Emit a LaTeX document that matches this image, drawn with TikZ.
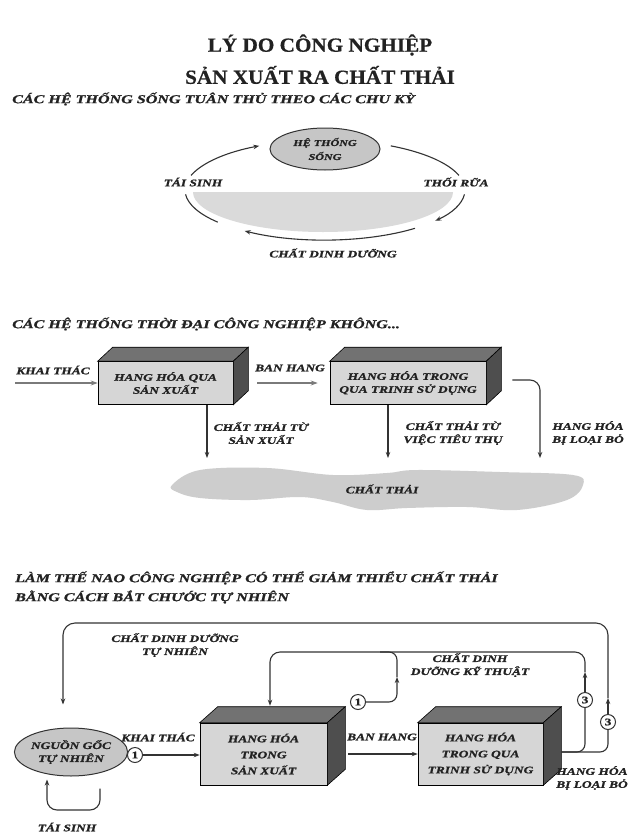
\documentclass[tikz,border=0pt]{standalone}
\usepackage{fontspec}
\setmainfont{Liberation Serif}
\newfontfamily\labfont[FakeStretch=1.34, FakeBold=1.2]{Liberation Serif}
\newfontfamily\ttlfont[FakeStretch=1.06, FakeBold=0.6]{Liberation Serif}
\usetikzlibrary{arrows.meta,calc,shapes.geometric}
\definecolor{ink}{HTML}{222222}
\definecolor{linec}{HTML}{333333}
\definecolor{frontc}{HTML}{D6D6D6}
\definecolor{topc}{HTML}{727272}
\definecolor{sidec}{HTML}{4E4E4E}
\definecolor{ellc}{HTML}{C6C6C6}
\definecolor{halfc}{HTML}{DADADA}
\definecolor{cloudc}{HTML}{CDCDCD}
\definecolor{garrc}{HTML}{7A7A7A}
\newcommand\drawdepth[3]{%
  \filldraw[topc, draw=black, line width=0.6pt] (#1.north west) -- ++(#2,#3) -- ($(#1.north east)+(#2,#3)$) -- (#1.north east) -- cycle;
  \filldraw[sidec, draw=black, line width=0.6pt] (#1.north east) -- ++(#2,#3) -- ($(#1.south east)+(#2,#3)$) -- (#1.south east) -- cycle;}
\tikzset{
  lab/.style={font=\labfont\bfseries\itshape\fontsize{10}{13}\selectfont, text=ink, align=center, inner sep=1pt},
  head/.style={font=\labfont\bfseries\itshape\fontsize{12}{15}\selectfont, text=ink, anchor=west, inner sep=0pt},
  ttl/.style={font=\ttlfont\bfseries\fontsize{20}{24}\selectfont, text=ink, inner sep=0pt},
  front/.style={draw=black, line width=0.6pt, fill=frontc, lab},
  ell/.style={ellipse, draw=linec, line width=1pt, fill=ellc, lab, inner sep=0pt},
  arr/.style={draw=linec, line width=1.1pt, -{Stealth[length=6pt,width=4.5pt]}},
  garr/.style={draw=garrc, line width=1.8pt, -{Stealth[length=7pt,width=5pt]}},
  ln/.style={draw=linec, line width=1.1pt},
  num/.style={circle, draw=linec, line width=1pt, fill=white, minimum size=15pt, inner sep=0pt, font=\labfont\bfseries\fontsize{10}{10}\selectfont, text=ink},
}
\begin{document}
\begin{tikzpicture}[x=1pt, y=-1pt]
\useasboundingbox (0,0) rectangle (630,835);
\fill[white] (0,0) rectangle (630,835);
% Title
\node[ttl] (t1) at (320,45) {LÝ DO CÔNG NGHIỆP};
\node[ttl] (t2) at (320,75) {SẢN XUẤT RA CHẤT THẢI};
% ---------- Section 1
\node[head] (h1) at (12,99) {CÁC HỆ THỐNG SỐNG TUÂN THỦ THEO CÁC CHU KỲ};
\fill[halfc] (193,192) arc[start angle=180, end angle=0, x radius=130, y radius=40] -- cycle;
\node[ell, minimum width=110pt, minimum height=42pt, font=\labfont\bfseries\itshape\fontsize{9}{14}\selectfont] (hs) at (325,149) {HỆ THỐNG\\SỐNG};
\coordinate (cyc) at (325,190);
\draw[arr] ([shift={(-163:140 and 50)}]cyc) arc[start angle=-163, end angle=-118, x radius=140, y radius=50];
\draw[ln] ([shift={(-62:140 and 50)}]cyc) arc[start angle=-62, end angle=-17, x radius=140, y radius=50];
\draw[arr] ([shift={(5:140 and 50)}]cyc) arc[start angle=5, end angle=38, x radius=140, y radius=50];
\draw[arr] ([shift={(50:140 and 50)}]cyc) arc[start angle=50, end angle=125, x radius=140, y radius=50];
\draw[ln] ([shift={(140:140 and 50)}]cyc) arc[start angle=140, end angle=175, x radius=140, y radius=50];
\node[lab] (ts) at (193,182) {TÁI SINH};
\node[lab] (tr) at (456,182) {THỐI RỮA};
\node[lab] (cd) at (333,253) {CHẤT DINH DƯỠNG};
% ---------- Section 2
\node[head] (h2) at (12,324) {CÁC HỆ THỐNG THỜI ĐẠI CÔNG NGHIỆP KHÔNG...};
\node[front, minimum width=135pt, minimum height=43pt] (b1) at (165.5,383) {HANG HÓA QUA\\SẢN XUẤT};
\drawdepth{b1}{15}{-14}
\node[front, minimum width=156pt, minimum height=43pt] (b2) at (408,383) {HANG HÓA TRONG\\QUA TRINH SỬ DỤNG};
\drawdepth{b2}{15}{-14}
\node[lab] (kt1) at (53,370) {KHAI THÁC};
\coordinate (kt1s) at (15,383);
\draw[garr] (kt1s) -- (b1.west);
\node[lab] (bh1) at (290,368) {BAN HANG};
\draw[garr] ([xshift=24pt]b1.east) -- ([xshift=-12pt]b2.west);
\fill[cloudc] plot[smooth cycle, tension=0.6] coordinates {(172,485) (200,470) (267,468) (333,475) (387,473) (417,470) (500,472) (573,475) (583,485) (567,500) (517,510) (467,507) (407,508) (367,510) (333,502) (300,497) (250,500) (200,498) (177,492)};
\node[lab] (waste) at (382,489) {CHẤT THẢI};
\coordinate (w1) at (207,458);
\coordinate (w2) at (388,458);
\coordinate (w3) at (540,458);
\coordinate (d0) at ($(b2.east)+(26,-3)$);
\draw[arr] (b1.south -| w1) -- (w1);
\draw[arr] (b2.south -| w2) -- (w2);
\draw[arr, rounded corners=10pt] (d0) -- (w3 |- d0) -- (w3);
\node[lab] (l1) at (261,433) {CHẤT THẢI TỪ\\SẢN XUẤT};
\node[lab] (l2) at (453,433) {CHẤT THẢI TỪ\\VIỆC TIÊU THỤ};
\node[lab] (l3) at (588,433) {HANG HÓA\\BỊ LOẠI BỎ};
% ---------- Section 3
\node[head] (h3a) at (15,578) {LÀM THẾ NAO CÔNG NGHIỆP CÓ THỂ GIẢM THIỂU CHẤT THẢI};
\node[head] (h3b) at (15,597) {BẰNG CÁCH BẮT CHƯỚC TỰ NHIÊN};
\node[ell, minimum width=102pt, minimum height=48pt] (src) at (71,752) {NGUỒN GỐC\\TỰ NHIÊN};
\node[num] (n1a) at (135,755) {1};
\node[lab] (kt2) at (158,737) {KHAI THÁC};
\node[front, minimum width=127pt, minimum height=62pt, font=\labfont\bfseries\itshape\fontsize{10}{16}\selectfont] (p1) at (263.5,754) {HANG HÓA\\TRONG\\SẢN XUẤT};
\drawdepth{p1}{18}{-16}
\node[front, minimum width=125pt, minimum height=62pt, font=\labfont\bfseries\itshape\fontsize{10}{16}\selectfont] (p2) at (480.5,754) {HANG HÓA\\TRONG QUA\\TRINH SỬ DỤNG};
\drawdepth{p2}{18}{-16}
\draw[arr] (n1a.east) -- (p1.west |- n1a.east);
\node[lab] (bh2) at (382,737) {BAN HANG};
\draw[arr] ([xshift=21pt]p1.east) -- (p2.west);
% outputs
\coordinate (o) at ($(p2.east)+(18,-2)$);
\node[num] (n3a) at (585,700) {3};
\node[num] (n3b) at (608,722) {3};
\draw[ln, rounded corners=8pt] (o) -| (n3a.south);
\draw[ln, rounded corners=8pt] (o) -| (n3b.south);
% technical loop
\coordinate (m3a) at (585,672);
\coordinate (p1in) at ($(p1.north)+(6.5,-17)$);
\coordinate (tl) at (270,652);
\coordinate (tr2) at (585,652);
\draw[arr] (n3a.north) -- (m3a);
\draw[arr, rounded corners=10pt] (m3a) -- (tr2) -- (tl) -- (p1in);
\node[num] (n1b) at (358,702) {1};
\coordinate (m1b) at (397,677);
\coordinate (j1) at (380,652);
\draw[arr, rounded corners=8pt] (n1b.east) -| (m1b);
\draw[ln, rounded corners=8pt] (m1b) |- (j1);
% natural loop
\coordinate (m3b) at (608,698);
\coordinate (srcin) at ($(src.north)+(-8,-23)$);
\coordinate (ol) at (63,623);
\draw[arr] (n3b.north) -- (m3b);
\draw[arr, rounded corners=12pt] (m3b) |- (ol) -- (srcin);
% regeneration
\coordinate (rg1) at ($(src.south)+(29,12)$);
\coordinate (rg2) at ($(src.south)+(-24,3)$);
\coordinate (rgb) at (47,810);
\draw[arr, rounded corners=10pt] (rg1) |- (rgb) -- (rg2);
\node[lab] (ts2) at (67,827) {TÁI SINH};
\node[lab] (nn) at (175,645) {CHẤT DINH DƯỠNG\\TỰ NHIÊN};
\node[lab] (kn) at (470,665) {CHẤT DINH\\DƯỠNG KỸ THUẬT};
\node[lab] (l4) at (592,778) {HANG HÓA\\BỊ LOẠI BỎ};
\end{tikzpicture}
\end{document}
